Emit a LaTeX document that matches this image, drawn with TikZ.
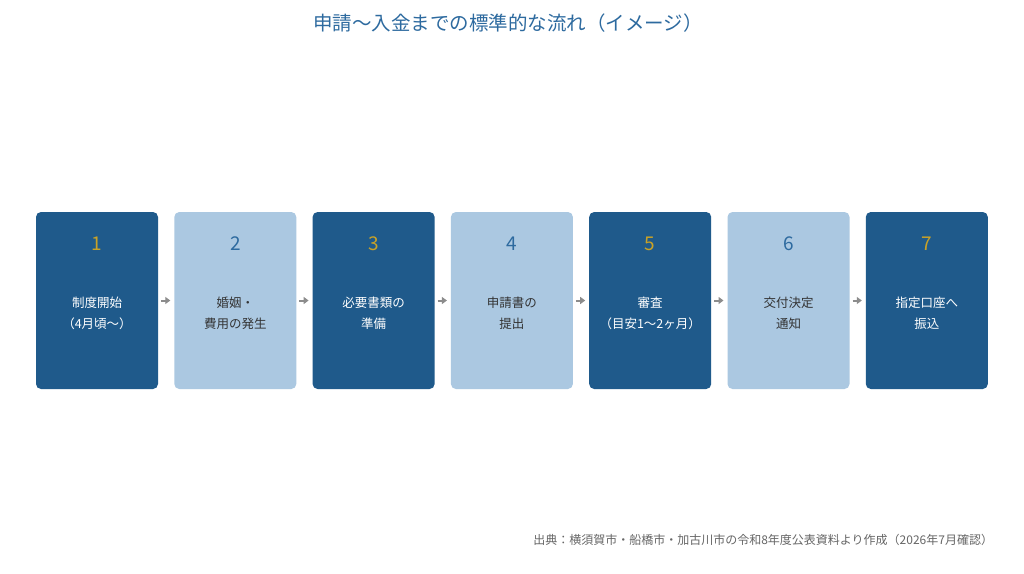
\documentclass[tikz,border=0pt]{standalone}
\usepackage{fontspec}
\setmainfont{Noto Sans CJK JP}
\usepackage{tikz}
\usetikzlibrary{positioning,arrows.meta}
\definecolor{darkstep}{HTML}{1F5A8B}
\definecolor{lightstep}{HTML}{ABC8E1}
\definecolor{goldnum}{HTML}{C9A227}
\definecolor{bluenum}{HTML}{2D6A9F}
\definecolor{titleblue}{HTML}{2D6A9F}
\definecolor{darktext}{HTML}{333333}
\definecolor{arrowgray}{HTML}{8C8C8C}
\definecolor{notegray}{HTML}{666666}

\begin{document}
\begin{tikzpicture}[x=1pt,y=-1pt,every node/.style={inner sep=0pt,outer sep=0pt}]
\tikzstyle{stepbox}=[rounded corners=5pt,minimum width=122pt,minimum height=177pt,anchor=north west]
\tikzstyle{dark}=[stepbox,fill=darkstep]
\tikzstyle{light}=[stepbox,fill=lightstep]
\tikzstyle{num}=[font=\fontsize{19}{19}\selectfont,yshift=-32pt]
\tikzstyle{txt}=[font=\fontsize{12.5}{21}\selectfont,align=center,yshift=-13pt]
\tikzstyle{flow}=[arrowgray,line width=2pt,-{Triangle[length=5pt,width=7pt]},shorten <=3pt,shorten >=4pt]

\useasboundingbox (0,0) rectangle (1024,573);
\fill[white] (0,0) rectangle (1024,573);

\node (T) at (508,23) [font=\fontsize{19.5}{19.5}\selectfont,text=titleblue] {申請～入金までの標準的な流れ（イメージ）};

\node (B1) at (36,212) [dark] {};
\node (B2) [light,right=16.3pt of B1] {};
\node (B3) [dark,right=16.3pt of B2] {};
\node (B4) [light,right=16.3pt of B3] {};
\node (B5) [dark,right=16.3pt of B4] {};
\node (B6) [light,right=16.3pt of B5] {};
\node (B7) [dark,right=16.3pt of B6] {};

\node (N1) at (B1.north) [num,text=goldnum] {1};
\node (N2) at (B2.north) [num,text=bluenum] {2};
\node (N3) at (B3.north) [num,text=goldnum] {3};
\node (N4) at (B4.north) [num,text=bluenum] {4};
\node (N5) at (B5.north) [num,text=goldnum] {5};
\node (N6) at (B6.north) [num,text=bluenum] {6};
\node (N7) at (B7.north) [num,text=goldnum] {7};

\node (L1) at (B1.center) [txt,text=white] {制度開始\\（4月頃～）};
\node (L2) at (B2.center) [txt,text=darktext] {婚姻・\\費用の発生};
\node (L3) at (B3.center) [txt,text=white] {必要書類の\\準備};
\node (L4) at (B4.center) [txt,text=darktext] {申請書の\\提出};
\node (L5) at (B5.center) [txt,text=white] {審査\\（目安1～2ヶ月）};
\node (L6) at (B6.center) [txt,text=darktext] {交付決定\\通知};
\node (L7) at (B7.center) [txt,text=white] {指定口座へ\\振込};

\draw [flow] (B1) -- (B2);
\draw [flow] (B2) -- (B3);
\draw [flow] (B3) -- (B4);
\draw [flow] (B4) -- (B5);
\draw [flow] (B5) -- (B6);
\draw [flow] (B6) -- (B7);

\node (S) at (993,540) [anchor=east,font=\fontsize{12}{12}\selectfont,text=notegray] {出典：横須賀市・船橋市・加古川市の令和8年度公表資料より作成（2026年7月確認）};

\end{tikzpicture}
\end{document}
